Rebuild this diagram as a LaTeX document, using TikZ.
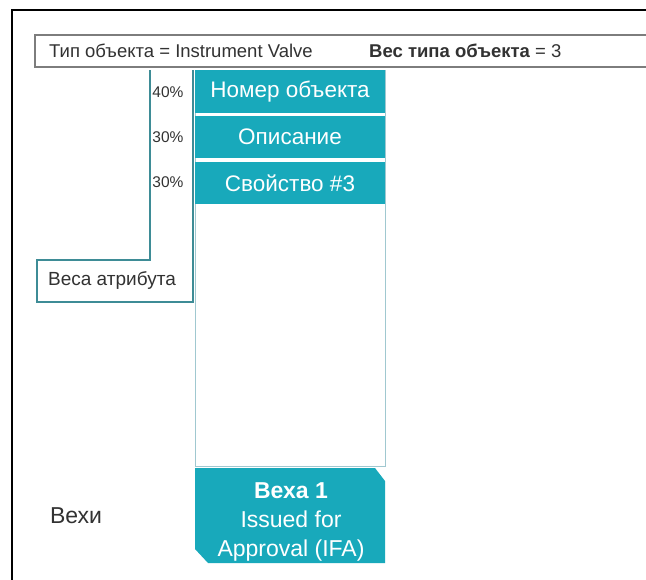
\documentclass[tikz,border=0pt]{standalone}
\usepackage{fontspec}
\setmainfont{Liberation Sans}
\usetikzlibrary{positioning}
\definecolor{valveTeal}{RGB}{24,169,187}
\definecolor{outlineTeal}{RGB}{62,140,150}
\definecolor{columnLine}{RGB}{160,200,208}
\definecolor{textGray}{RGB}{50,50,50}
\definecolor{headerLine}{RGB}{125,125,125}
\tikzset{
  attrbox/.style={
    rectangle, fill=valveTeal, text=white, inner sep=0pt,
    minimum width=190pt, font=\fontsize{22.5}{24}\selectfont
  },
  graytext/.style={inner sep=0pt, text=textGray},
  thinframe/.style={draw=outlineTeal, line width=1.1pt}
}
\begin{document}
\begin{tikzpicture}[x=1pt, y=-1pt,
        pct/.style={graytext, font=\fontsize{15.5}{18}\selectfont},
        hdr/.style={graytext, anchor=west, font=\fontsize{18.5}{20}\selectfont}]
        \clip (0,0) rectangle (646,579);
        \fill[white] (0,0) rectangle (646,579);
        % outer frame
        \draw[black, line width=2.4pt] (12,590) -- (12,10) -- (660,10);
        % header
        \draw[draw=headerLine, line width=1.4pt, fill=white] (35,35) rectangle (660,67);
        \node[hdr] (tip) at (49,51) {Тип объекта = Instrument Valve};
        \node[hdr] (ves) at (369,51) {\textbf{Вес типа объекта} = 3};
        % attribute column
        \draw[thinframe] (150,70) -- (150,260) -- (37,260) -- (37,302)
              -- (193,302) -- (193,70);
        \draw[draw=columnLine, line width=1pt] (195,70) rectangle (385,466);
        \node[graytext, font=\fontsize{19}{21}\selectfont] (wlabel) at (112,280) {Веса атрибута};
        \node[attrbox, minimum height=43pt] (nomer) at (290,91.5) {Номер объекта};
        \node[attrbox, minimum height=42pt] (opis) at (290,137) {Описание};
        \node[attrbox, minimum height=42pt] (svoj) at (290,183) {Свойство \#3};
        \node[pct] (p1) at (168,92) {40\%};
        \node[pct] (p2) at (168,137) {30\%};
        \node[pct] (p3) at (168,182) {30\%};
        % milestone
        \fill[valveTeal] (195,468) -- (375,468) -- (385,481) -- (385,563)
              -- (208,563) -- (195,549) -- cycle;
        \node[text=white, align=center, inner sep=0pt,
              font=\fontsize{23}{29}\selectfont] (veha) at (291,521.5)
              {\textbf{Веха 1}\\Issued for\\Approval (IFA)};
        \node[graytext, font=\fontsize{23}{25}\selectfont] (vehi) at (76,516) {Вехи};
      \end{tikzpicture}
\end{document}
